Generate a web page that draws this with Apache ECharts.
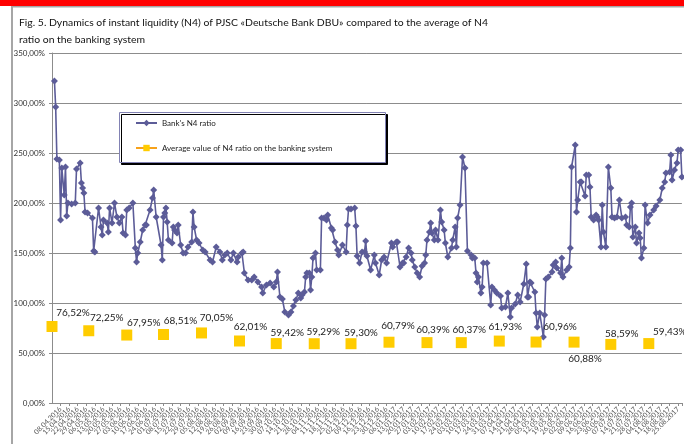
<!DOCTYPE html>
<html>
<head>
<meta charset="utf-8">
<script src="https://cdn.jsdelivr.net/npm/echarts@6/dist/echarts.min.js"></script>
<style>
  html, body { margin: 0; padding: 0; background: #fff; }
  #chart { width: 684px; height: 444px; }
</style>
</head>
<body>
<div id="chart"></div>
<script>
// weekly tick labels (every 7 days starting 01.04.2016)
var weekLabels = [
  "01.04.2016", "08.04.2016", "15.04.2016", "22.04.2016", "29.04.2016",
  "06.05.2016", "13.05.2016", "20.05.2016", "27.05.2016", "03.06.2016",
  "10.06.2016", "17.06.2016", "24.06.2016", "01.07.2016", "08.07.2016",
  "15.07.2016", "22.07.2016", "29.07.2016", "05.08.2016", "12.08.2016",
  "19.08.2016", "26.08.2016", "02.09.2016", "09.09.2016", "16.09.2016",
  "23.09.2016", "30.09.2016", "07.10.2016", "14.10.2016", "21.10.2016",
  "28.10.2016", "04.11.2016", "11.11.2016", "18.11.2016", "25.11.2016",
  "02.12.2016", "09.12.2016", "16.12.2016", "23.12.2016", "30.12.2016",
  "06.01.2017", "13.01.2017", "20.01.2017", "27.01.2017", "03.02.2017",
  "10.02.2017", "17.02.2017", "24.02.2017", "03.03.2017", "10.03.2017",
  "17.03.2017", "24.03.2017", "31.03.2017", "07.04.2017", "14.04.2017",
  "21.04.2017", "28.04.2017", "05.05.2017", "12.05.2017", "19.05.2017",
  "26.05.2017", "02.06.2017", "09.06.2017", "16.06.2017", "23.06.2017",
  "30.06.2017", "07.07.2017", "14.07.2017", "21.07.2017", "28.07.2017",
  "04.08.2017", "11.08.2017", "18.08.2017", "25.08.2017"
];

// bank's N4 ratio: day number counted from 01.04.2016, value in %
var bankDays = [
  2, 3, 4, 6, 7, 8, 10, 11, 12, 13, 16, 19, 20, 23, 24, 25, 26, 27, 29, 33,
  34, 35, 38, 40, 41, 42, 45, 46, 47, 49, 51, 53, 55, 57, 58, 60, 61, 63, 66, 68,
  69, 70, 72, 74, 76, 77, 80, 82, 83, 85, 89, 90, 91, 92, 93, 94, 95, 98, 99, 100,
  102, 103, 105, 107, 109, 111, 114, 115, 116, 118, 120, 123, 125, 129, 131, 134, 137, 139, 141, 143,
  146, 148, 151, 152, 155, 156, 157, 160, 163, 165, 168, 171, 172, 175, 178, 181, 183, 184, 186, 188,
  190, 193, 195, 197, 199, 201, 203, 204, 206, 207, 208, 210, 211, 212, 213, 215, 216, 219, 220, 222,
  224, 225, 228, 229, 231, 233, 234, 237, 240, 241, 242, 244, 247, 248, 249, 251, 253, 255, 256, 257,
  260, 263, 264, 267, 269, 271, 273, 277, 278, 281, 282, 284, 286, 287, 289, 291, 293, 294, 296, 298,
  300, 302, 304, 305, 306, 308, 309, 310, 312, 313, 315, 317, 318, 320, 321, 323, 326, 327, 329, 330,
  331, 333, 335, 337, 339, 342, 343, 345, 346, 347, 348, 350, 351, 352, 355, 358, 359, 361, 363, 366,
  367, 370, 372, 374, 375, 378, 380, 382, 385, 387, 388, 389, 390, 391, 394, 395, 396, 398, 401, 402,
  403, 405, 408, 409, 411, 412, 415, 416, 417, 420, 422, 423, 424, 427, 428, 429, 431, 432, 435, 436,
  438, 439, 440, 442, 444, 445, 446, 448, 449, 450, 452, 454, 456, 457, 459, 461, 463, 465, 468, 469,
  471, 472, 473, 474, 476, 477, 479, 480, 481, 483, 484, 486, 488, 491, 493, 496, 498, 500, 501, 504,
  505, 506, 508, 510, 511, 513, 514
];
var bankValues = [
  322, 296, 244, 243, 183, 235, 208, 236, 187, 200, 199, 200, 234, 240, 220, 215, 210, 191, 190, 185,
  152, 151, 195, 176, 168, 183, 180, 171, 195, 180, 200, 186, 180, 186, 170, 168, 193, 195, 200, 155,
  141, 150, 161, 173, 178, 178, 193, 205, 213, 186, 158, 143, 186, 190, 195, 181, 163, 160, 176, 173,
  170, 178, 158, 150, 150, 156, 161, 191, 176, 163, 160, 153, 151, 143, 141, 156, 151, 143, 148, 150,
  143, 150, 141, 146, 150, 151, 130, 123, 123, 126, 121, 116, 110, 118, 120, 116, 121, 131, 106, 104,
  91, 88, 91, 97, 103, 110, 105, 108, 111, 126, 130, 130, 113, 126, 145, 150, 133, 133, 185, 185,
  183, 188, 175, 173, 161, 153, 148, 158, 151, 178, 194, 194, 195, 177, 147, 140, 151, 151, 162, 147,
  133, 148, 140, 128, 143, 146, 140, 160, 156, 161, 161, 136, 140, 140, 146, 155, 150, 143, 136, 130,
  126, 137, 140, 148, 163, 171, 180, 170, 163, 173, 163, 193, 181, 173, 160, 146, 155, 163, 176, 156,
  185, 198, 246, 235, 152, 148, 145, 145, 130, 121, 126, 110, 116, 140, 140, 98, 116, 113, 110, 107,
  95, 96, 110, 86, 95, 99, 108, 101, 119, 139, 106, 106, 121, 120, 111, 90, 76, 90, 66, 88,
  124, 126, 131, 138, 141, 135, 130, 145, 126, 133, 136, 155, 236, 258, 191, 203, 221, 221, 207, 228,
  228, 216, 186, 183, 188, 186, 183, 156, 198, 171, 156, 236, 215, 186, 185, 186, 203, 185, 186, 178,
  176, 196, 200, 166, 176, 160, 170, 165, 145, 155, 198, 180, 188, 193, 197, 203, 215, 221, 230, 231,
  248, 223, 233, 240, 253, 253, 226
];

// average N4 of the banking system, on the 1st of each month
var avgDays = [0, 30, 61, 91, 122, 153, 183, 214, 244, 275, 306, 334, 365, 395, 426, 456, 487];
var avgValues = [76.52, 72.25, 67.95, 68.51, 70.05, 62.01, 59.42, 59.29, 59.30,
  60.79, 60.39, 60.37, 61.93, 60.96, 60.88, 58.59, 59.43];

var yTicks = [0, 50, 100, 150, 200, 250, 300, 350];

var bankName = "Bank's N4 ratio";
var avgName = "Average value of N4 ratio on the banking system";

// label placement of the average values (style only)
var avgLabelShift = [
  [21, -14], [18, -13], [17, -12], [17, -14], [15, -15], [11, -14], [11, -11], [9, -12], [10, -11],
  [9, -16], [6, -13], [8, -13], [6, -14], [24, -15], [11, 17], [11, -11], [21, -12]
];

function pct(v) {
  return v.toFixed(2).replace(".", ",") + "%";
}

var chart = echarts.init(document.getElementById("chart"));

var bankData = bankDays.map(function (d, i) { return [d, bankValues[i]]; });
var avgData = avgDays.map(function (d, i) {
  return {
    value: [d, avgValues[i]],
    label: { offset: avgLabelShift[i] }
  };
});

var option = {
  backgroundColor: "#fff",
  animation: false,
  textStyle: { fontFamily: "Lato, 'Noto Sans', sans-serif" },
  title: {
    text: "Fig. 5. Dynamics of instant liquidity (N4) of PJSC «Deutsche Bank DBU» compared to the average of N4\nratio on the banking system",
    left: 14,
    top: 9,
    textStyle: {
      fontFamily: "Lato, sans-serif",
      fontSize: 10.4,
      fontWeight: "normal",
      color: "#111",
      lineHeight: 17
    }
  },
  graphic: [
    {
      type: "rect",
      shape: { x: 0, y: 0, width: 684, height: 6 },
      style: { fill: "#ff0000" },
      z: 10
    },
    {
      type: "rect",
      shape: { x: 12, y: 6.5, width: 700, height: 460 },
      style: { fill: "none", stroke: "#a6a6a6", lineWidth: 2 },
      z: 0
    },
    {
      type: "rect",
      shape: { x: 119.5, y: 112.5, width: 266, height: 50 },
      style: {
        fill: "#fff",
        stroke: "#8282b4",
        lineWidth: 1,
        shadowColor: "#000",
        shadowBlur: 0,
        shadowOffsetX: 2,
        shadowOffsetY: 2
      },
      z: 3
    }
  ],
  legend: {
    orient: "vertical",
    left: 135,
    top: 119,
    itemWidth: 21,
    itemHeight: 8,
    itemGap: 17,
    padding: 0,
    z: 5,
    textStyle: { fontSize: 8, color: "#222", fontFamily: "Lato, sans-serif" },
    data: [
      { name: bankName },
      { name: avgName, lineStyle: { color: "#f7a21b", opacity: 1, width: 2 } }
    ]
  },
  grid: {
    left: 52,
    right: 0,
    top: 53,
    bottom: 41
  },
  xAxis: {
    type: "value",
    min: 0,
    max: 514,
    interval: 7,
    axisLine: { show: true, lineStyle: { color: "#8c8c8c", width: 1 } },
    axisTick: { show: true, length: 3, lineStyle: { color: "#8c8c8c" } },
    splitLine: { show: false },
    axisLabel: {
      rotate: 45,
      fontSize: 7,
      color: "#555",
      margin: 5,
      formatter: function (v) {
        return v % 7 === 0 && weekLabels[v / 7] ? weekLabels[v / 7] : "";
      }
    }
  },
  yAxis: {
    type: "value",
    min: yTicks[0],
    max: yTicks[yTicks.length - 1],
    interval: 50,
    axisLine: { show: true, lineStyle: { color: "#8c8c8c", width: 1 } },
    axisTick: { show: true, length: 3, lineStyle: { color: "#8c8c8c" } },
    splitLine: { show: true, lineStyle: { color: "#8c8c8c", width: 1 } },
    axisLabel: {
      fontSize: 8,
      color: "#333",
      margin: 7,
      formatter: function (v) { return pct(v); }
    }
  },
  series: [
    {
      name: bankName,
      type: "line",
      data: bankData,
      symbol: "diamond",
      symbolSize: 7,
      showAllSymbol: true,
      color: "#5c5c98",
      lineStyle: { color: "#5c5c98", width: 1.6 },
      itemStyle: { color: "#5c5c98" },
      z: 2
    },
    {
      name: avgName,
      type: "line",
      data: avgData,
      symbol: "rect",
      symbolSize: 11,
      color: "#ffcc00",
      lineStyle: { opacity: 0, color: "#f7a21b" },
      itemStyle: { color: "#ffcc00" },
      label: {
        show: true,
        position: "inside",
        fontSize: 10,
        color: "#222",
        formatter: function (p) { return pct(p.value[1]); }
      },
      z: 3
    }
  ]
};

chart.setOption(option);
</script>
</body>
</html>
